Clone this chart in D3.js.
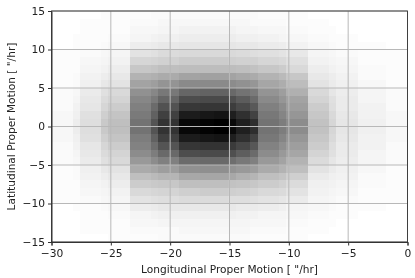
<!DOCTYPE html>
<html><head><meta charset="utf-8">
<script src="https://cdn.jsdelivr.net/npm/d3@7"></script>
<style>html,body{margin:0;padding:0;background:#fff}svg{display:block;filter:blur(.45px)}text{font-family:"DejaVu Sans";fill:#222}</style>
</head><body><svg id="c" width="415" height="278"></svg>
<script>
const xEdges=[-30,-28.19,-27.6,-25.83,-25.24,-23.38,-21.62,-21.03,-19.26,-17.49,-16.3,-15.13,-14.45,-13.27,-12.6,-10.83,-10.24,-8.39,-6.62,-6.03,-4.17,-1.81,0];
const yEdges=[15,14,13,12,11,10,9,8,7,6,5,4,3,2,1,0,-1,-2,-3,-4,-5,-6,-7,-8,-9,-10,-11,-12,-13,-14,-15];
const density=[
[0,0,0,1,1,1,2,2,2,2,2,2,2,2,1,1,1,0,0,0,0,0],
[0,0,1,1,1,2,2,3,3,3,3,3,3,2,2,2,1,1,0,0,0,0],
[0,0,1,1,1,3,3,4,5,5,5,5,4,4,3,3,2,1,1,0,0,0],
[0,1,1,1,2,4,5,6,7,7,7,7,6,6,5,4,3,2,1,1,0,0],
[0,1,1,2,3,7,8,9,10,10,10,10,9,9,8,7,5,3,2,1,1,0],
[1,1,2,3,4,11,12,14,15,15,15,15,14,13,12,11,9,4,3,2,1,1],
[1,1,3,4,5,16,17,18,20,20,20,19,18,18,16,15,12,5,4,3,1,1],
[1,1,4,5,7,22,23,25,26,26,26,26,25,24,22,20,15,7,5,4,2,1],
[1,2,5,7,9,30,31,33,36,37,37,36,34,33,30,27,22,9,7,5,2,1],
[1,2,6,9,11,36,38,42,46,46,46,45,43,41,35,32,26,11,8,6,3,1],
[2,3,8,12,15,43,47,53,60,61,61,59,55,52,42,38,31,15,10,7,4,2],
[2,4,9,14,17,47,52,60,70,71,71,69,64,58,46,41,36,17,12,8,4,2],
[2,5,10,16,20,50,58,68,78,79,79,76,71,65,50,45,38,20,13,8,5,2],
[3,6,12,19,23,52,62,75,89,91,92,88,81,74,53,48,41,22,15,9,5,3],
[3,7,13,21,25,55,67,80,97,99,100,96,88,82,55,51,45,24,16,10,6,3],
[3,7,13,21,25,55,67,80,97,99,100,96,88,82,55,51,45,24,16,10,6,3],
[3,6,12,19,23,51,62,75,89,91,92,88,81,74,53,48,41,22,15,9,5,3],
[2,5,10,16,20,49,57,67,79,80,80,77,72,66,49,44,38,20,13,8,5,2],
[2,4,9,14,17,45,51,59,70,71,71,69,63,58,45,40,35,17,12,8,4,2],
[2,3,8,12,15,40,45,50,58,59,59,57,53,50,40,36,30,14,10,7,4,2],
[1,2,6,9,11,33,35,38,43,44,44,42,40,38,33,30,25,11,8,6,3,1],
[1,2,5,7,9,25,27,29,34,35,35,34,31,29,25,23,19,8,6,5,2,1],
[1,1,4,5,7,20,21,22,25,25,25,24,23,22,20,18,14,6,5,4,2,1],
[1,1,3,4,5,15,16,17,19,20,20,19,18,17,15,14,11,5,4,3,1,1],
[1,1,2,3,4,11,12,13,14,14,14,13,13,12,11,10,8,4,3,2,1,1],
[0,1,1,2,3,7,8,9,9,9,9,9,8,8,7,6,4,3,2,1,1,0],
[0,0,1,1,2,4,5,6,6,6,6,6,5,5,4,4,3,2,1,1,0,0],
[0,0,1,1,1,3,3,4,4,4,4,4,4,3,3,3,2,1,1,0,0,0],
[0,0,1,1,1,2,2,2,3,3,3,3,3,2,2,2,1,1,0,0,0,0],
[0,0,0,0,1,1,1,2,2,2,2,2,2,1,1,1,1,0,0,0,0,0]];
const xTicks=[-30,-25,-20,-15,-10,-5,0];
const yTicks=[-15,-10,-5,0,5,10,15];
const xTitle='Longitudinal Proper Motion [ "/hr]';
const yTitle='Latitudinal Proper Motion [ "/hr]';

const m={l:51.5,r:407.5,t:11,b:242};
const x=d3.scaleLinear().domain([-30,0]).range([m.l,m.r]);
const y=d3.scaleLinear().domain([-15,15]).range([m.b,m.t]);
const shade=d3.scaleLinear().domain([0,100]).range(["#ffffff","#000000"]);
const svg=d3.select("#c");
svg.append("g").attr("shape-rendering","crispEdges").selectAll("g").data(density).join("g")
 .each(function(row,j){
  d3.select(this).selectAll("rect").data(row).join("rect")
   .attr("x",(d,i)=>x(xEdges[i])).attr("width",(d,i)=>x(xEdges[i+1])-x(xEdges[i])+.5)
   .attr("y",y(yEdges[j])).attr("height",y(yEdges[j+1])-y(yEdges[j])+.5)
   .attr("fill",d=>shade(d));
 });
const grid=svg.append("g").attr("stroke","#b8b8b8").attr("stroke-width",1);
grid.selectAll(".gx").data(xTicks).join("line").attr("x1",d=>x(d)).attr("x2",d=>x(d)).attr("y1",m.t).attr("y2",m.b);
grid.selectAll(".gy").data(yTicks).join("line").attr("y1",d=>y(d)).attr("y2",d=>y(d)).attr("x1",m.l).attr("x2",m.r);
const style=g=>{g.selectAll("path,line").attr("stroke","#333");g.selectAll("text").attr("fill","#222").style("font-size","10.7px").style("font-family",'"DejaVu Sans"');};
const fmt=d=>String(d).replace("-","\u2212");
svg.append("g").attr("transform",`translate(0,${m.b})`).call(d3.axisBottom(x).tickValues(xTicks).tickFormat(fmt).tickSize(3.5).tickPadding(4)).call(style);
svg.append("g").attr("transform",`translate(${m.l},0)`).call(d3.axisLeft(y).tickValues(yTicks).tickFormat(fmt).tickSize(3.5).tickPadding(3)).call(style);
svg.append("rect").attr("x",m.l).attr("y",m.t).attr("width",m.r-m.l).attr("height",m.b-m.t).attr("fill","none").attr("stroke","#333").attr("stroke-width",.9);
svg.append("text").attr("x",(m.l+m.r)/2).attr("y",273).attr("text-anchor","middle").style("font-size","10.6px").text(xTitle);
svg.append("text").attr("transform",`translate(15,${(m.t+m.b)/2}) rotate(-90)`).attr("text-anchor","middle").style("font-size","10.6px").text(yTitle);
</script></body></html>
